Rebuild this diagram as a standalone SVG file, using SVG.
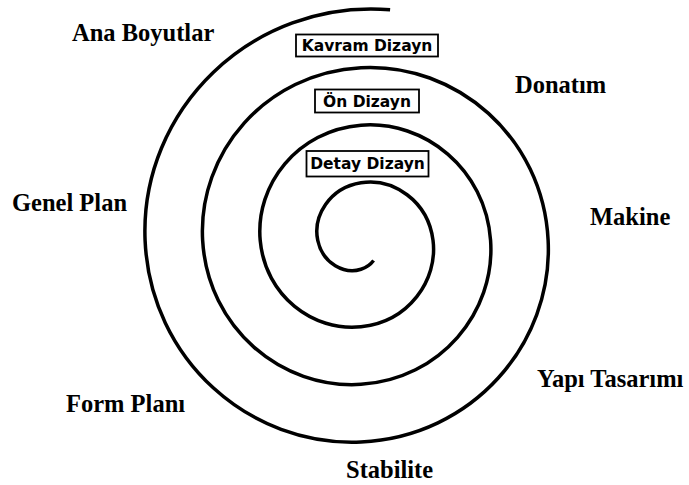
<svg xmlns="http://www.w3.org/2000/svg" width="689" height="485" viewBox="0 0 689 485">
<style>
.lbl{font-family:"Liberation Serif","Times New Roman",serif;font-weight:bold;font-size:24.5px;fill:#000}
.box{fill:#fff;stroke:#000;stroke-width:1.8}
.bt{font-family:"DejaVu Sans",sans-serif;font-weight:bold;font-size:15.5px;fill:#000;text-anchor:middle}
.sp{fill:none;stroke:#000;stroke-width:3.5;stroke-linecap:butt;stroke-linejoin:round}
</style>
<rect width="689" height="485" fill="#fff"/>
<g id="connectors">
<path class="sp" d="M390.1,9.8 C251.2,-1.24 139.6,110.4 145.09,240.4 C150.15,359.65 249.7,446.98 361,441.92 C472.3,436.86 553.19,343.75 548.13,240.4 C543.07,137.05 456.4,62.6 361,67.66 C265.6,72.72 197.58,152.94 202.64,240.4 C207.7,327.86 281.49,389.43 361,384.37 C440.51,379.31 495.64,311.97 490.58,240.4 C485.52,168.83 424.62,120.15 361,125.21 C297.38,130.27 255.14,184.73 260.2,240.4 C265.26,296.07 313.28,331.87 361,326.81 C408.72,321.75 438.08,280.18 433.02,240.4 C427.96,200.62 392.83,177.71 361,182.77 C329.17,187.83 312.7,216.52 317.76,240.4 C322.82,264.28 345.07,274.31 361,269.25 C366.42,267.53 370.74,264.33 373.6,260.5"/>
</g>
<g id="ana-boyutlar"><text class="lbl" x="72" y="41">Ana Boyutlar</text></g>
<g id="genel-plan"><text class="lbl" x="12" y="211">Genel Plan</text></g>
<g id="form-plani"><text class="lbl" x="66" y="412">Form Planı</text></g>
<g id="stabilite"><text class="lbl" x="346" y="478">Stabilite</text></g>
<g id="yapi-tasarimi"><text class="lbl" x="537" y="387">Yapı Tasarımı</text></g>
<g id="makine"><text class="lbl" x="590" y="225">Makine</text></g>
<g id="donatim"><text class="lbl" x="515" y="93">Donatım</text></g>
<g id="kavram-dizayn"><rect class="box" x="296" y="34.5" width="142" height="22"/><text class="bt" x="367" y="51">Kavram Dizayn</text></g>
<g id="on-dizayn"><rect class="box" x="315" y="89.5" width="104" height="23"/><text class="bt" x="367" y="106.5">Ön Dizayn</text></g>
<g id="detay-dizayn"><rect class="box" x="306.5" y="151" width="122" height="25.5"/><text class="bt" x="367.5" y="169">Detay Dizayn</text></g>
</svg>
